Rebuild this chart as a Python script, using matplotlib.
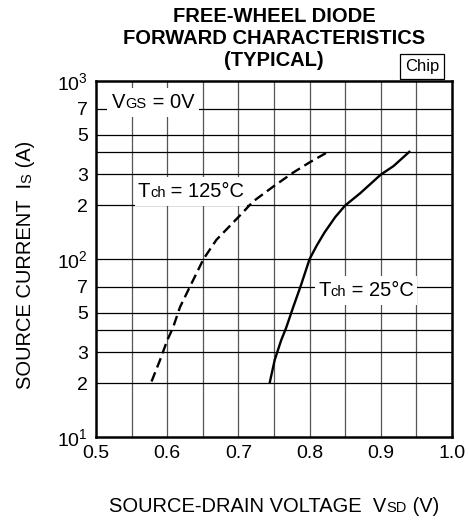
import numpy as np
import matplotlib
matplotlib.use('Agg')
from matplotlib import pyplot as plt
from matplotlib import transforms as mtransforms
from matplotlib.patches import Rectangle

plt.rcParams['font.family'] = ['Liberation Sans', 'DejaVu Sans']

## Data ----------------------------------------------------------------------
# Tch = 25C (solid)
v_25 = [0.744, 0.751, 0.760, 0.767, 0.777, 0.788, 0.800, 0.810, 0.821, 0.836, 0.850, 0.871, 0.900, 0.918, 0.940]
i_25 = [20.2, 27.1, 34.9, 41, 53.7, 71.5, 100, 119, 141, 172, 200, 234, 298, 333, 400]
# Tch = 125C (dashed)
v_125 = [0.578, 0.590, 0.600, 0.608, 0.618, 0.632, 0.651, 0.669, 0.700, 0.721, 0.750, 0.777, 0.800, 0.826]
i_125 = [20.5, 27.1, 34.9, 41, 53.7, 70, 100, 128, 172, 211, 257, 306, 349, 400]

x_ticks = [0.5, 0.6, 0.7, 0.8, 0.9, 1.0]
x_grid = [0.55, 0.6, 0.65, 0.7, 0.75, 0.8, 0.85, 0.9, 0.95]
y_grid = [20, 30, 40, 50, 70, 100, 200, 300, 400, 500, 700]
y_ticks = [10, 20, 30, 50, 70, 100, 200, 300, 500, 700, 1000]
y_labels = [r'$\mathregular{10^1}$', '2', '3', '5', '7', r'$\mathregular{10^2}$',
            '2', '3', '5', '7', r'$\mathregular{10^3}$']

## Figure --------------------------------------------------------------------
fig = plt.figure(figsize=(4.69, 5.20), dpi=100)
ax = fig.add_axes([96/469, 83/520, 356/469, 356/520])
ax.set_yscale('log')
ax.set_xlim(0.5, 1.0)
ax.set_ylim(10, 1000)

for xv in x_grid:
    ax.axvline(xv, color='#555555', lw=0.9, zorder=1)
for yv in y_grid:
    ax.axhline(yv, color='black', lw=0.9, zorder=1)

ax.plot(v_25, i_25, color='black', lw=1.7, zorder=3, solid_joinstyle='round')
ax.plot(v_125, i_125, color='black', lw=1.7, ls=(0, (4.2, 2.2)), zorder=3)

ax.set_xticks(x_ticks)
ax.set_xticklabels(['0.5', '0.6', '0.7', '0.8', '0.9', '1.0'])
ax.set_yticks(y_ticks)
ax.set_yticklabels(y_labels)
ax.yaxis.set_minor_locator(matplotlib.ticker.NullLocator())
ax.tick_params(length=0, labelsize=14, pad=6)
for s in ax.spines.values():
    s.set_linewidth(1.8)

renderer = fig.canvas.get_renderer()


def rich(x, y, parts, transform, rotation=0, center=True, box=None, zorder=5):
    # draw text pieces of different sizes on one baseline
    def place(start):
        texts, off = [], start
        for s, size in parts:
            dx, dy = (off, 0) if rotation == 0 else (0, off)
            tr = mtransforms.offset_copy(transform, fig=fig, x=dx, y=dy, units='dots')
            t = fig.text(x, y, s, size=size, transform=tr, rotation=rotation,
                         rotation_mode='anchor', ha='left', va='baseline', zorder=zorder)
            bb = t.get_window_extent(renderer)
            off += bb.width if rotation == 0 else bb.height
            texts.append(t)
        return texts, off - start
    texts, total = place(0)
    if center:
        for t in texts:
            t.remove()
        texts, total = place(-total / 2)
    if box is not None:
        bbs = [t.get_window_extent(renderer) for t in texts]
        x0 = min(b.x0 for b in bbs) - box[0]
        x1 = max(b.x1 for b in bbs) + box[0]
        y0 = min(b.y0 for b in bbs) - box[1]
        y1 = max(b.y1 for b in bbs) + box[1]
        inv = fig.transFigure.inverted()
        (fx0, fy0), (fx1, fy1) = inv.transform([(x0, y0), (x1, y1)])
        fig.patches.append(Rectangle((fx0, fy0), fx1 - fx0, fy1 - fy0, transform=fig.transFigure,
                                     facecolor='white', edgecolor='none', zorder=zorder - 1))
    return texts


big, small = 14.5, 10.5

# axis labels
rich(274/469, 1 - 512/520, [('SOURCE-DRAIN VOLTAGE  V', big), ('SD', small), (' (V)', big)],
     fig.transFigure)
rich(31/469, 1 - 265/520, [('SOURCE CURRENT  I', big), ('S', small), (' (A)', big)],
     fig.transFigure, rotation=90)

# in-plot labels
rich(153/469, 1 - 108/520, [('V', big), ('GS', small), (' = 0V', big)], fig.transFigure, box=(5, 5))
rich(191/469, 1 - 197/520, [('T', big), ('ch', small), (' = 125°C', big)], fig.transFigure, box=(3, 5))
rich(366/469, 1 - 296/520, [('T', big), ('ch', small), (' = 25°C', big)], fig.transFigure, box=(3, 5))

# title
for k, line in enumerate(['FREE-WHEEL DIODE', 'FORWARD CHARACTERISTICS', '(TYPICAL)']):
    fig.text(274/469, 1 - (16 + 22*k)/520, line, ha='center', va='center', size=14.5, weight='bold')
fig.text(422/469, 1 - 66/520, 'Chip', ha='center', va='center', size=12,
         bbox=dict(boxstyle='square,pad=0.3', facecolor='white', edgecolor='black', lw=0.9))

fig.savefig('out.png', dpi=100)
